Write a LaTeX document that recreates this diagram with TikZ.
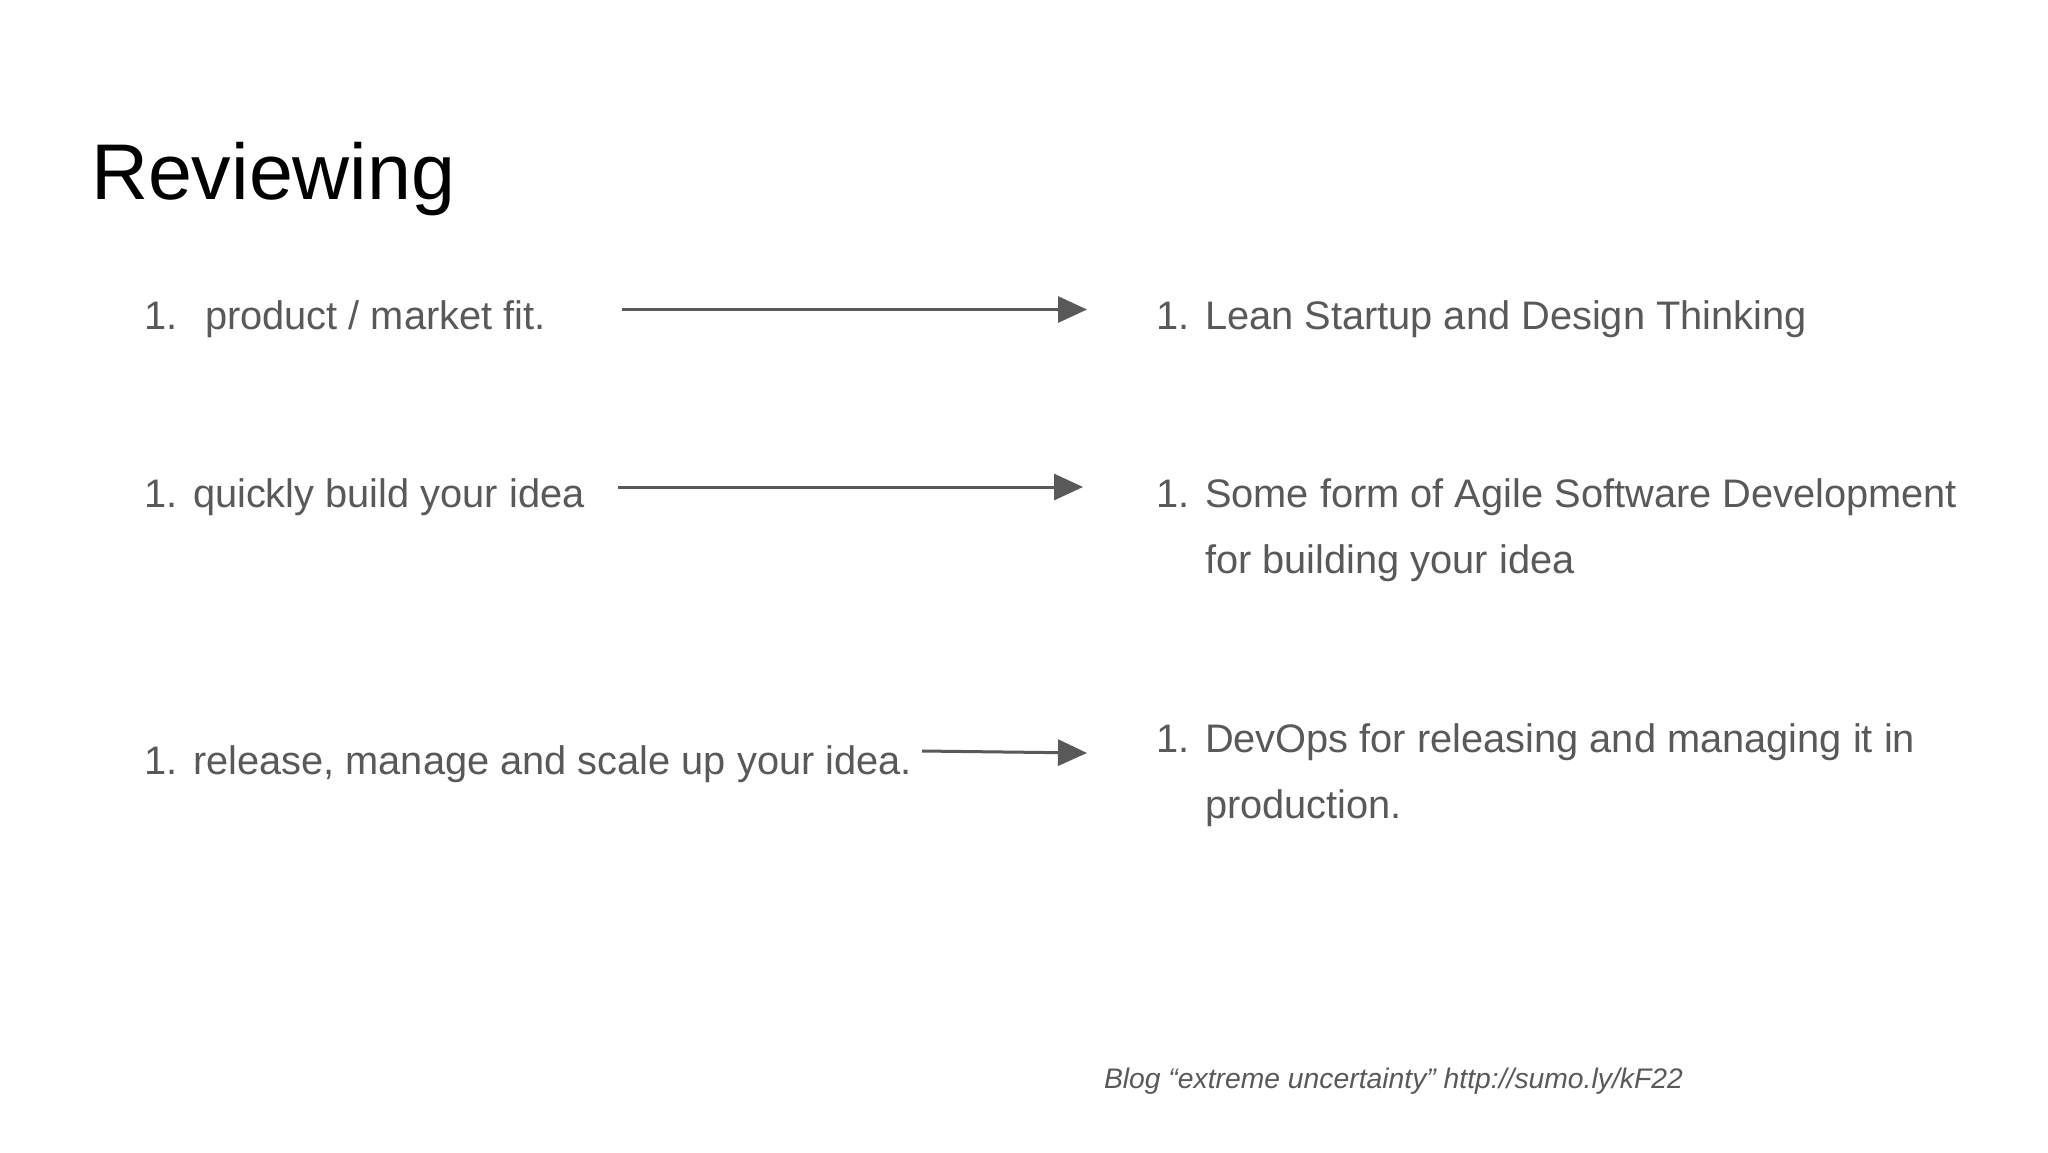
\documentclass[tikz,border=0pt]{standalone}
\usepackage{fontspec}
\setmainfont{Liberation Sans}
\usetikzlibrary{arrows.meta}
\definecolor{txtgray}{HTML}{595959}
\begin{document}
\begin{tikzpicture}[x=0.5pt,y=-0.5pt,
  every node/.style={inner sep=0pt,outer sep=0pt,anchor=base west},
  titletxt/.style={font=\fontsize{39.5}{47}\selectfont,text=black},
  bodytxt/.style={font=\fontsize{19.9}{24}\selectfont,text=txtgray},
  foottxt/.style={font=\fontsize{14.15}{17}\selectfont\itshape,text=txtgray},
  conn/.style={draw=txtgray,line width=1.5pt,-{Triangle[length=14.5pt,width=13pt]}}]
\useasboundingbox[fill=white] (0,0) rectangle (2048,1152);
\node[titletxt] (title) at (91,199) {Reviewing};
% left column
\node[bodytxt] (n1) at (144,329) {1.};
\node[bodytxt] (l1) at (205,329) {product / market fit.};
\node[bodytxt] (n2) at (144,507) {1.};
\node[bodytxt] (l2) at (193,507) {quickly build your idea};
\node[bodytxt] (n3) at (144,774) {1.};
\node[bodytxt] (l3) at (193,774) {release, manage and scale up your idea.};
% right column
\node[bodytxt] (m1) at (1156,329) {1.};
\node[bodytxt] (r1) at (1205,329) {Lean Startup and Design Thinking};
\node[bodytxt] (m2) at (1156,507) {1.};
\node[bodytxt] (r2) at (1205,507) {Some form of Agile Software Development};
\node[bodytxt] (r2b) at (1205,573) {for building your idea};
\node[bodytxt] (m3) at (1156,752) {1.};
\node[bodytxt] (r3) at (1205,752) {DevOps for releasing and managing it in};
\node[bodytxt] (r3b) at (1205,818) {production.};
% footer
\node[foottxt] (foot) at (1104,1088) {Blog “extreme uncertainty” http://sumo.ly/kF22};
% arrows
\coordinate (a1s) at (622,309.5);
\coordinate (a1e) at (1087,309.5);
\coordinate (a2s) at (618,487);
\coordinate (a2e) at (1083,487);
\coordinate (a3s) at (922,751);
\coordinate (a3e) at (1087,753);
\draw[conn] (a1s) -- (a1e);
\draw[conn] (a2s) -- (a2e);
\draw[conn] (a3s) -- (a3e);
\end{tikzpicture}
\end{document}
